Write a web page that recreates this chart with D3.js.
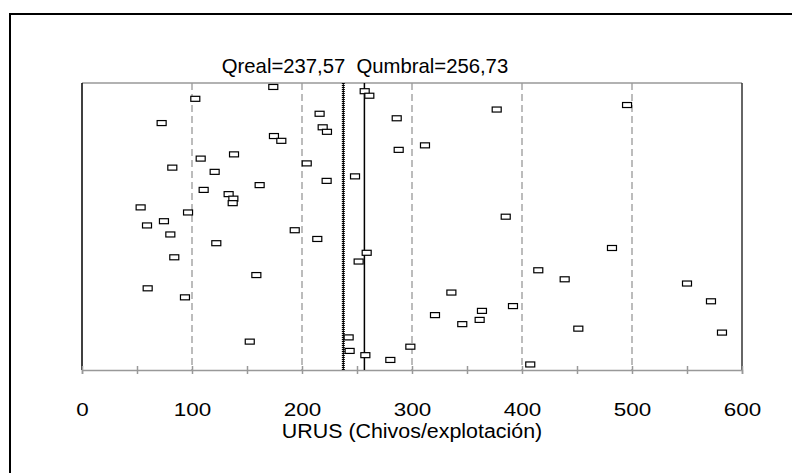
<!DOCTYPE html>
<html>
<head>
<meta charset="utf-8">
<script src="https://cdn.jsdelivr.net/npm/d3@7"></script>
<style>
  body { margin: 0; background: #fff; }
  text { font-family: "Liberation Sans", Arial, sans-serif; fill: #000; }
</style>
</head>
<body>
<svg id="chart" width="792" height="473"></svg>
<script>
// URUS per farm (x) and vertical jitter (0..1) used to spread the boxes
const urus = [
  173.9, 103.0, 216.0, 72.4, 218.8, 222.7, 174.5, 181.2, 138.2, 107.9,
  204.3, 82.1, 120.6, 161.5, 222.4, 110.6, 133.3, 137.6, 137.0, 53.3,
  96.4, 74.5, 59.1, 80.3, 193.4, 122.1, 213.9, 83.9, 158.5, 59.7,
  93.6, 152.5, 257.0, 261.2, 495.5, 377.0, 286.1, 287.9, 311.8, 248.2,
  385.2, 481.8, 258.8, 251.5, 414.8, 438.8, 335.8, 391.8, 363.6, 320.9,
  361.5, 345.7, 451.2, 550.0, 571.8, 581.8, 242.4, 243.3, 257.6, 298.5,
  280.3, 407.5
];
const jitter = [
  0.993, 0.951, 0.898, 0.865, 0.850, 0.834, 0.819, 0.802, 0.754, 0.739,
  0.722, 0.707, 0.692, 0.645, 0.660, 0.628, 0.613, 0.597, 0.581, 0.566,
  0.548, 0.517, 0.502, 0.470, 0.485, 0.439, 0.454, 0.389, 0.326, 0.279,
  0.247, 0.090, 0.978, 0.962, 0.929, 0.913, 0.882, 0.770, 0.786, 0.676,
  0.533, 0.422, 0.405, 0.374, 0.343, 0.311, 0.264, 0.216, 0.199, 0.184,
  0.167, 0.152, 0.136, 0.296, 0.233, 0.122, 0.105, 0.057, 0.042, 0.072,
  0.025, 0.009
];
const qReal = 237.57;
const qUmbral = 256.73;
const gridValues = [100, 200, 300, 400, 500];
const tickValues = d3.range(0, 601, 50);
const xTitle = "URUS (Chivos/explotación)";

const svg = d3.select("#chart");

// frame round the whole figure (right and bottom fall outside the picture)
svg.append("rect")
   .attr("x", 10).attr("y", 14)
   .attr("width", 800).attr("height", 500)
   .attr("fill", "none").attr("stroke", "#000").attr("stroke-width", 2);

const pLeft = 82, pRight = 742, pTop = 83, pBottom = 370;

const x = d3.scaleLinear().domain([0, 600]).range([pLeft, pRight]);
const y = d3.scaleLinear().domain([0, 1]).range([pBottom - 3, pTop + 2]);

// dashed grid lines
svg.append("g")
   .selectAll("line")
   .data(gridValues)
   .join("line")
   .attr("x1", d => x(d)).attr("x2", d => x(d))
   .attr("y1", pTop).attr("y2", pBottom)
   .attr("stroke", "#a6a6a6")
   .attr("stroke-width", 1.5)
   .attr("stroke-dasharray", "7,4");

// plot box: top grey, left black, right dark
svg.append("line").attr("x1", pLeft).attr("x2", pRight).attr("y1", pTop).attr("y2", pTop)
   .attr("stroke", "#999").attr("stroke-width", 1.5);
svg.append("line").attr("x1", pLeft).attr("x2", pLeft).attr("y1", pTop).attr("y2", pBottom)
   .attr("stroke", "#000").attr("stroke-width", 1.5);
svg.append("line").attr("x1", pRight).attr("x2", pRight).attr("y1", pTop).attr("y2", pBottom)
   .attr("stroke", "#333").attr("stroke-width", 1.5);

// bottom axis
const axis = d3.axisBottom(x)
   .tickValues(tickValues)
   .tickSizeOuter(0)
   .tickSize(4)
   .tickPadding(0)
   .tickFormat(d => d % 100 === 0 ? d : "");

const ax = svg.append("g")
   .attr("transform", "translate(0," + pBottom + ")")
   .call(axis);
ax.select(".domain").attr("stroke", "#999").attr("stroke-width", 1.5);
ax.selectAll(".tick line").attr("y1", -4).attr("y2", 4)
  .attr("stroke", "#999").attr("stroke-width", 1.5);
// labels in the reference are a little wider than Arial, so stretch them
ax.selectAll(".tick text")
  .attr("y", 0)
  .attr("dy", null)
  .attr("transform", "translate(0,45.5) scale(1.18,1)")
  .style("font-size", "19px")
  .style("font-family", "'Liberation Sans', Arial, sans-serif")
  .attr("fill", "#000");

svg.append("text")
   .attr("transform", "translate(" + (pLeft + pRight) / 2 + ",437.5) scale(1.07,1)")
   .attr("text-anchor", "middle")
   .style("font-size", "20px")
   .text(xTitle);

// threshold lines
svg.append("line")
   .attr("x1", x(qReal)).attr("x2", x(qReal))
   .attr("y1", pTop).attr("y2", pBottom)
   .attr("stroke", "#000").attr("stroke-width", 1);
svg.append("line")
   .attr("x1", x(qReal)).attr("x2", x(qReal))
   .attr("y1", pTop).attr("y2", pBottom)
   .attr("stroke", "#000").attr("stroke-width", 3)
   .attr("stroke-dasharray", "1,1");
svg.append("line")
   .attr("x1", x(qUmbral)).attr("x2", x(qUmbral))
   .attr("y1", pTop).attr("y2", pBottom)
   .attr("stroke", "#000").attr("stroke-width", 1.5);

svg.append("text")
   .attr("x", 365)
   .attr("y", 73)
   .attr("text-anchor", "middle")
   .style("font-size", "20.3px")
   .style("white-space", "pre")
   .text("Qreal=" + String(qReal).replace(".", ",") + "  Qumbral=" + String(qUmbral).replace(".", ","));

// boxes
const pts = urus.map((v, i) => ({ v: v, j: jitter[i] }));
svg.append("g")
   .selectAll("rect")
   .data(pts)
   .join("rect")
   .attr("x", d => x(d.v) - 4.5)
   .attr("y", d => y(d.j) - 2.5)
   .attr("width", 9)
   .attr("height", 5)
   .attr("fill", "#fff")
   .attr("stroke", "#000")
   .attr("stroke-width", 1.2);
</script>
</body>
</html>
